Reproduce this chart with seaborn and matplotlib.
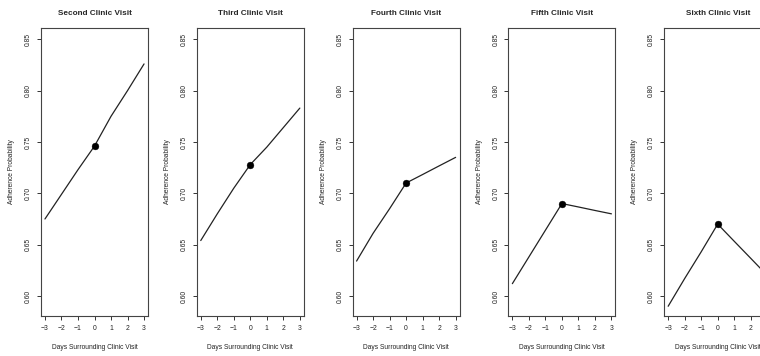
import matplotlib
matplotlib.use("Agg")
import matplotlib.pyplot as plt
import seaborn as sns
import pandas as pd

days = [-3, -2, -1, 0, 1, 2, 3]
second_visit = [0.675, 0.699, 0.723, 0.746, 0.775, 0.800, 0.826]
third_visit = [0.654, 0.680, 0.705, 0.728, 0.745, 0.764, 0.783]
fourth_visit = [0.634, 0.661, 0.685, 0.710, 0.7183, 0.7267, 0.735]
fifth_visit = [0.612, 0.638, 0.664, 0.690, 0.6867, 0.6833, 0.680]
sixth_visit = [0.590, 0.617, 0.643, 0.670, 0.6533, 0.6367, 0.620]
titles = ["Second Clinic Visit", "Third Clinic Visit", "Fourth Clinic Visit",
          "Fifth Clinic Visit", "Sixth Clinic Visit"]
yticks = [0.60, 0.65, 0.70, 0.75, 0.80, 0.85]
xticks = [-3, -2, -1, 0, 1, 2, 3]

series = [second_visit, third_visit, fourth_visit, fifth_visit, sixth_visit]

sns.set_style("white")
plt.rcParams['font.family'] = ['Liberation Sans', 'DejaVu Sans']

W, H = 760, 356
fig = plt.figure(figsize=(W / 100, H / 100), dpi=100)

ax_left0 = 41
ax_w = 107
step = 155.8
ax_top = 28
ax_bot = 316

for i, (title, vals) in enumerate(zip(titles, series)):
    left = ax_left0 + i * step
    ax = fig.add_axes([left / W, (H - ax_bot) / H, ax_w / W, (ax_bot - ax_top) / H])
    df = pd.DataFrame({"day": days, "prob": vals})
    sns.lineplot(data=df, x="day", y="prob", ax=ax, color="#222222", linewidth=0.9)
    sns.scatterplot(data=df[df["day"] == 0], x="day", y="prob", ax=ax,
                    color="black", s=24, edgecolor="black", linewidth=0.3, zorder=5)
    ax.set_xlim(-3.24, 3.24)
    ax.set_ylim(0.5805, 0.861)
    ax.set_xticks(xticks)
    ax.set_xticklabels([str(t).replace('-', '\u2212') for t in xticks], fontsize=4.9,
                       color="#222222")
    ax.set_yticks(yticks)
    ax.set_yticklabels([f"{t:.2f}" for t in yticks], fontsize=4.9, rotation=90,
                       va="center", color="#222222")
    ax.tick_params(axis="both", which="both", direction="out", length=3, width=0.7,
                   color="#333333", pad=3.5, left=True, bottom=True)
    ax.set_title(title, fontsize=5.9, fontweight="bold", pad=9.5)
    ax.set_xlabel("Days Surrounding Clinic Visit", fontsize=4.8, labelpad=8.5,
                  color="#222222")
    ax.set_ylabel("Adherence Probability", fontsize=4.8, labelpad=7, color="#222222")
    for sp in ax.spines.values():
        sp.set_color("#444444")
        sp.set_linewidth(0.8)
    ax.grid(False)

fig.savefig("out.png", dpi=100)
